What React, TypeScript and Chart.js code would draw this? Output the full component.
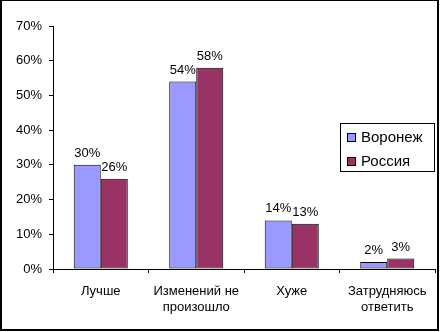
import React, { useEffect, useRef } from "react";
import { Chart, registerables } from "chart.js";

Chart.register(...registerables);

const categories: (string | string[])[] = [
  "Лучше",
  ["Изменений не", "произошло"],
  "Хуже",
  ["Затрудняюсь", "ответить"],
];
const voronezh = [30, 54, 14, 2];
const russia = [26, 58, 13, 3];
const seriesNames = ["Воронеж", "Россия"];
const seriesColors = ["#9999FF", "#993366"];
const yMax = 70;
const yStep = 10;

const FONT = "Arial, 'Liberation Sans', sans-serif";

const frame = {
  id: "frame",
  afterDraw(chart: any) {
    const ctx = chart.ctx;
    ctx.save();
    ctx.fillStyle = "#000";
    const w = chart.width;
    const h = chart.height;
    ctx.fillRect(0, 0, 2, h - 1);
    ctx.fillRect(0, 0, w - 1, 1);
    ctx.fillRect(w - 3, 0, 2, h - 1);
    ctx.fillRect(0, h - 3, w - 1, 2);
    ctx.restore();
  },
};

const dataLabels = {
  id: "dataLabels",
  afterDatasetsDraw(chart: any) {
    const ctx = chart.ctx;
    ctx.save();
    ctx.font = `13px ${FONT}`;
    ctx.fillStyle = "#000";
    ctx.textAlign = "center";
    ctx.textBaseline = "alphabetic";
    chart.data.datasets.forEach((ds: any, i: number) => {
      const meta = chart.getDatasetMeta(i);
      meta.data.forEach((el: any, j: number) => {
        ctx.fillText(`${ds.data[j]}%`, el.x, el.y - 8);
      });
    });
    ctx.restore();
  },
};

const boxLegend = {
  id: "boxLegend",
  afterDraw(chart: any) {
    const ctx = chart.ctx;
    const ca = chart.chartArea;
    const x0 = ca.right - 95;
    const y0 = 123;
    const w = 94;
    const h = 48;
    ctx.save();
    ctx.fillStyle = "#fff";
    ctx.fillRect(x0, y0, w, h);
    ctx.strokeStyle = "#000";
    ctx.lineWidth = 1;
    ctx.strokeRect(x0 + 0.5, y0 + 0.5, w, h);
    ctx.font = `15px ${FONT}`;
    ctx.textAlign = "left";
    ctx.textBaseline = "middle";
    chart.data.datasets.forEach((ds: any, i: number) => {
      const sy = y0 + 10 + i * 24;
      ctx.fillStyle = ds.backgroundColor;
      ctx.fillRect(x0 + 7, sy, 8, 8);
      ctx.strokeStyle = "#000";
      ctx.strokeRect(x0 + 7.5, sy + 0.5, 8, 8);
      ctx.fillStyle = "#000";
      ctx.fillText(ds.label, x0 + 21, sy + 5);
    });
    ctx.restore();
  },
};

export default function App() {
  const ref = useRef<HTMLCanvasElement>(null);
  useEffect(() => {
    document.body.style.margin = "0";
    const chart = new Chart(ref.current!, {
      type: "bar",
      data: {
        labels: categories,
        datasets: [
          {
            label: seriesNames[0],
            data: voronezh,
            backgroundColor: seriesColors[0],
            borderColor: "#000",
            borderWidth: 1,
            borderSkipped: false,
          },
          {
            label: seriesNames[1],
            data: russia,
            backgroundColor: seriesColors[1],
            borderColor: "#000",
            borderWidth: 1,
            borderSkipped: false,
          },
        ],
      },
      options: {
        responsive: false,
        animation: false,
        devicePixelRatio: 1,
        layout: { padding: { left: 0, top: 26, right: 5, bottom: 0 } },
        datasets: { bar: { categoryPercentage: 0.566, barPercentage: 1 } } as any,
        plugins: {
          legend: { display: false },
          tooltip: { enabled: false },
        },
        scales: {
          x: {
            afterFit: (s: any) => {
              s.height = 63;
            },
            grid: {
              drawOnChartArea: false,
              drawTicks: true,
              tickLength: 4,
              color: "#000",
              offset: true,
            },
            border: { display: true, color: "#000", width: 1 },
            ticks: {
              color: "#000",
              font: { family: FONT, size: 13 },
              padding: 11,
              maxRotation: 0,
              autoSkip: false,
            },
          },
          y: {
            min: 0,
            max: yMax,
            afterFit: (s: any) => {
              s.width = 53;
            },
            grid: {
              drawOnChartArea: false,
              drawTicks: true,
              tickLength: 4,
              color: "#000",
            },
            border: { display: true, color: "#000", width: 1 },
            ticks: {
              stepSize: yStep,
              color: "#000",
              font: { family: FONT, size: 13 },
              padding: 7,
              callback: (v: any) => `${v}%`,
            },
          },
        },
      },
      plugins: [dataLabels, boxLegend, frame],
    });
    return () => chart.destroy();
  }, []);
  return (
    <div style={{ position: "absolute", left: 0, top: 0 }}>
      <canvas ref={ref} width={440} height={332} />
    </div>
  );
}
